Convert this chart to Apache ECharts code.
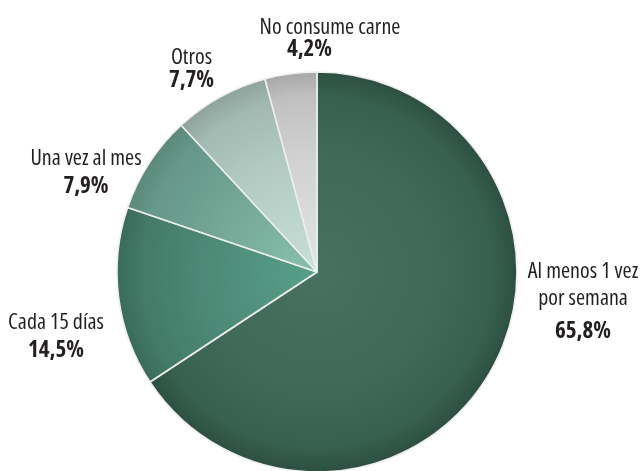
<!DOCTYPE html>
<html>
<head>
<meta charset="utf-8">
<script src="https://cdn.jsdelivr.net/npm/echarts@6/dist/echarts.min.js"></script>
<style>
  html, body { margin: 0; padding: 0; background: #fff; }
  #chart { width: 644px; height: 471px; }
</style>
</head>
<body>
<div id="chart"></div>
<script>
// Frecuencia de consumo de carne (%)
const categories = ['Al menos 1 vez\npor semana', 'Cada 15 días', 'Una vez al mes', 'Otros', 'No consume carne'];
const values = [65.8, 14.5, 7.9, 7.7, 4.2];

// Slice shading: light near the centre, darker towards the rim
const sliceStops = [
  ['#46725f', '#3f6958', '#37604f', '#2d4f42'],
  ['#57a08a', '#4c8875', '#437a68', '#3a6a5a'],
  ['#88c0ae', '#71a493', '#66978a', '#5b897a'],
  ['#c8e0d8', '#b0cac1', '#a1b9b0', '#8ea39b'],
  ['#e4e4e4', '#d0d0d0', '#c0c0c0', '#a8a8a8']
];

// Label placement: block centre x, block top y, line spacing, value line shift
const labelX = [583, 56, 86, 191.5, 330];
const labelTop = [258, 308.5, 145.5, 46, 16.5];
const nameLH = [27, 28, 27, 23, 22];
const valueLH = [38, 28, 27, 23, 22];
const valueShift = [0, 0, 0, 0, 41];

const CX = 317, CY = 272, R = 200;
// font-stretch keyword travels in the fontStyle slot of the canvas font string
const FONT = "'Open Sans', sans-serif";
const STRETCH = 'condensed';

function fmt(v) { return v.toFixed(1).replace('.', ',') + '%'; }

const data = categories.map((name, i) => ({
  name: name,
  value: values[i],
  itemStyle: {
    color: {
      type: 'radial', x: CX, y: CY, r: R, global: true,
      colorStops: [
        { offset: 0, color: sliceStops[i][0] },
        { offset: 0.6, color: sliceStops[i][1] },
        { offset: 0.88, color: sliceStops[i][2] },
        { offset: 1, color: sliceStops[i][3] }
      ]
    }
  },
  label: {
    rich: {
      n: { fontFamily: FONT, fontStyle: STRETCH, fontSize: 22, color: '#231f20', lineHeight: nameLH[i] },
      v: { fontFamily: FONT, fontStyle: STRETCH, fontSize: 23, fontWeight: 'bold', color: '#231f20',
           lineHeight: valueLH[i], padding: [0, valueShift[i], 0, 0] }
    }
  }
}));

const chart = echarts.init(document.getElementById('chart'), null, { renderer: 'canvas' });
chart.setOption({
  backgroundColor: '#ffffff',
  animation: false,
  series: [{
    type: 'pie',
    center: [CX, CY],
    radius: R,
    startAngle: 90,
    clockwise: true,
    avoidLabelOverlap: false,
    itemStyle: { borderColor: '#eeeeee', borderWidth: 1.6 },
    label: {
      show: true,
      position: 'outside',
      formatter: p => '{n|' + p.name + '}\n{v|' + fmt(p.value) + '}',
      align: 'center'
    },
    labelLine: { show: false },
    labelLayout: p => ({
      x: labelX[p.dataIndex],
      y: labelTop[p.dataIndex],
      align: 'center',
      verticalAlign: 'top'
    }),
    emphasis: { disabled: true },
    data: data
  }]
});
</script>
</body>
</html>
